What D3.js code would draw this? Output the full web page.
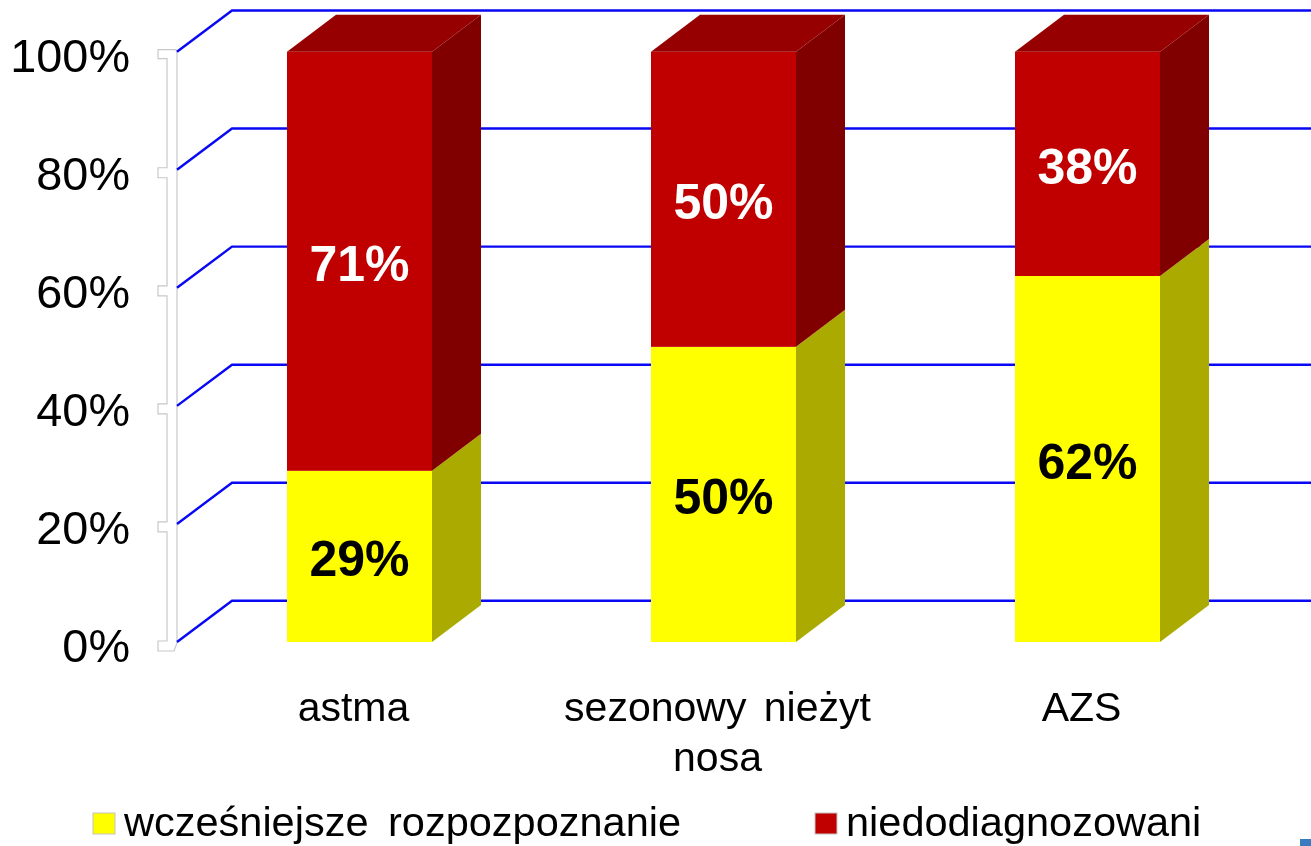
<!DOCTYPE html>
<html>
<head>
<meta charset="utf-8">
<script src="https://cdn.jsdelivr.net/npm/d3@7"></script>
<style>
  html, body { margin: 0; padding: 0; background: #fff; overflow: hidden; }
  text { font-family: "Liberation Sans", Arial, sans-serif; }
  svg { filter: blur(0.45px); }
</style>
</head>
<body>
<div id="visualization"></div>
<script>
// chart values
const categories = ["astma", "sezonowy nieżyt nosa", "AZS"];
const categoryLines = [["astma"], ["sezonowy nieżyt", "nosa"], ["AZS"]];
const seriesNames = ["wcześniejsze rozpozpoznanie", "niedodiagnozowani"];
const earlier = [29, 50, 62];
const undiagnosed = [71, 50, 38];
const yTicks = [0, 20, 40, 60, 80, 100];

const frontColors = ["#ffff00", "#c00000"];
const sideColors = ["#aaaa00", "#800000"];
const topColor = "#960000";
const gridColor = "#0808f5";
const labelColors = ["#000", "#fff"];

function main(){
    const width = 1311, height = 846;

    const svg = d3.select("#visualization").append("svg")
        .attr("width", width)
        .attr("height", height)
        .style("display", "block");

    const y = d3.scaleLinear().domain([0, 100]).range([642, 51.7]);
    const x = d3.scaleBand().domain(categories).range([177.5, 1269.5])
        .paddingInner(219 / 364).paddingOuter(219 / 728);

    // 3d offsets: wall is a bit deeper than the bars
    const wallDx = 55, wallDy = -41.2;
    const barDx = 49, barDy = -37;
    const axisX = 177;

    // the white "ticked" axis shape
    let outline = "M" + (axisX - 19) + "," + (y(100) - 2) + "H" + (axisX - 1) + "L" + axisX + "," + (y(100) + 1);
    outline += "V" + (y(0) + 1) + "L" + (axisX - 3) + "," + (y(0) + 9) + "H" + (axisX - 19) + "V" + (y(0) - 1) + "H" + (axisX - 10);
    yTicks.slice(1, -1).forEach((t) => {
        outline += "V" + (y(t) + 8) + "H" + (axisX - 19) + "V" + (y(t) - 2) + "H" + (axisX - 10);
    });
    outline += "V" + (y(100) + 7) + "H" + (axisX - 19) + "Z";
    svg.append("path")
        .attr("d", outline)
        .attr("fill", "#fff")
        .attr("stroke", "#c8c8c8")
        .attr("stroke-width", 1.2);

    // gridlines, left diagonal and then back wall
    svg.append("g").selectAll("path")
        .data(yTicks)
        .enter()
        .append("path")
            .attr("d", (d) => "M" + axisX + "," + y(d) + "l" + wallDx + "," + wallDy + "H" + width)
            .attr("fill", "none")
            .attr("stroke", gridColor)
            .attr("stroke-width", 2.4);

    // stacks
    const stacked = categories.map((c, i) => {
        const a = earlier[i], b = undiagnosed[i];
        return { cat: c, parts: [{ s: 0, y0: 0, y1: a, v: a }, { s: 1, y0: a, y1: 100, v: b }] };
    });

    const bars = svg.append("g").selectAll("g")
        .data(stacked)
        .enter()
        .append("g");

    bars.each(function(d){
        const g = d3.select(this);
        const x0 = x(d.cat), x1 = x0 + x.bandwidth();

        d.parts.forEach((p) => {
            g.append("path")
                .attr("d", "M" + x1 + "," + y(p.y0) + "l" + barDx + "," + barDy + "V" + (y(p.y1) + barDy) + "l" + (-barDx) + "," + (-barDy) + "Z")
                .attr("fill", sideColors[p.s]);
            g.append("rect")
                .attr("x", x0)
                .attr("y", y(p.y1))
                .attr("width", x.bandwidth())
                .attr("height", y(p.y0) - y(p.y1))
                .attr("fill", frontColors[p.s]);
        });

        g.append("path")
            .attr("d", "M" + x0 + "," + y(100) + "l" + barDx + "," + barDy + "H" + (x1 + barDx) + "l" + (-barDx) + "," + (-barDy) + "Z")
            .attr("fill", topColor);

        d.parts.forEach((p) => {
            g.append("text")
                .attr("x", x0 + x.bandwidth() / 2)
                .attr("y", (y(p.y0) + y(p.y1)) / 2 + 20)
                .attr("text-anchor", "middle")
                .attr("font-size", 50)
                .attr("font-weight", "bold")
                .attr("fill", labelColors[p.s])
                .text(p.v + "%");
        });
    });

    // y axis labels
    const axis = d3.axisLeft(y).tickValues(yTicks).tickFormat((d) => d + "%").tickSize(0).tickPadding(0);
    const axisG = svg.append("g").attr("transform", "translate(130,5)").call(axis);
    axisG.select(".domain").remove();
    axisG.selectAll("text")
        .attr("font-size", 46.8)
        .attr("fill", "#000")
        .style("font-family", '"Liberation Sans", Arial, sans-serif');

    // category labels
    categories.forEach((c, i) => {
        categoryLines[i].forEach((line, j) => {
            svg.append("text")
                .attr("x", x(c) + x.bandwidth() / 2 - 6)
                .attr("y", 721 + j * 50)
                .attr("text-anchor", "middle")
                .attr("font-size", 41)
                .attr("word-spacing", 6)
                .attr("fill", "#000")
                .text(line);
        });
    });

    // legend
    const legendX = d3.scaleOrdinal().domain(seriesNames).range([93, 815]);
    const legend = svg.append("g").selectAll("g")
        .data(seriesNames)
        .enter()
        .append("g");
    legend.append("rect")
        .attr("x", (d) => legendX(d))
        .attr("y", 813)
        .attr("width", 22)
        .attr("height", 21)
        .attr("fill", (d, i) => frontColors[i])
        .attr("stroke", "#c4c4c4")
        .attr("stroke-width", 1);
    legend.append("text")
        .attr("x", (d) => legendX(d) + 31)
        .attr("y", 836)
        .attr("font-size", 41.5)
        .attr("word-spacing", 8)
        .attr("fill", "#000")
        .text((d) => d);

    // bit of the slide logo left in the corner
    svg.append("rect")
        .attr("x", 1300).attr("y", 839)
        .attr("width", 11).attr("height", 7)
        .attr("fill", "#3a7abf");
}

window.onload = () => {
    main();
}
</script>
</body>
</html>
